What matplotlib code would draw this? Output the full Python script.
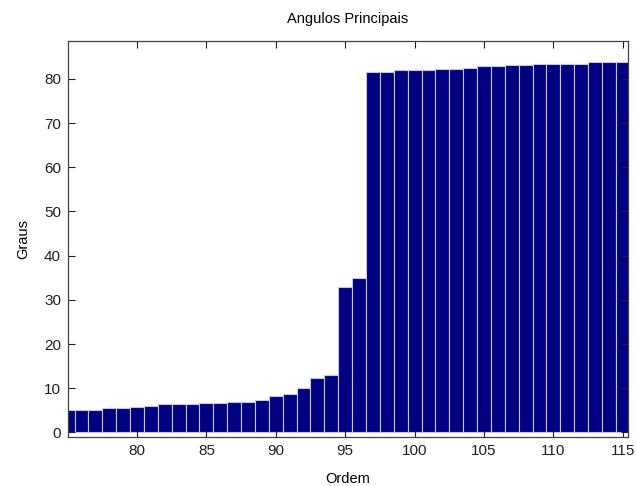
import numpy as np
import matplotlib
matplotlib.use("Agg")
import matplotlib.pyplot as plt

plt.rcParams['font.family'] = ['Liberation Sans', 'DejaVu Sans']

ordem = list(range(75, 116))
graus = [5.1, 5.1, 5.1, 5.5, 5.5, 5.7, 6.1, 6.4, 6.4, 6.4,
         6.7, 6.7, 7.0, 7.0, 7.3, 8.3, 8.6, 10.1, 12.4, 12.9,
         32.8, 35.0, 81.5, 81.5, 81.9, 81.9, 81.9, 82.2, 82.2, 82.5,
         82.8, 82.8, 83.1, 83.1, 83.4, 83.4, 83.4, 83.4, 83.8, 83.8,
         83.8]
xticks = [80, 85, 90, 95, 100, 105, 110, 115]
yticks = [0, 10, 20, 30, 40, 50, 60, 70, 80]

fig = plt.figure(figsize=(6.36, 4.86), dpi=100)
ax = fig.add_axes([0.107, 0.101, 0.880, 0.815])

ax.bar(ordem, graus, width=1.0, color='#000080', edgecolor='#c4c4e6', linewidth=0.8)

ax.set_xlim(75.03, 115.36)
ax.set_ylim(-1.0, 88.6)
ax.set_xticks(xticks)
ax.set_yticks(yticks)
ax.tick_params(direction='in', length=5, width=0.8, top=True, right=True,
               labelsize=11, colors='#202020', pad=5)
for s in ax.spines.values():
    s.set_color('#404040')
    s.set_linewidth(0.9)

ax.set_title('Angulos Principais', fontsize=10.5, pad=13)
ax.set_xlabel('Ordem', fontsize=10.5, labelpad=10)
ax.set_ylabel('Graus', fontsize=10.5, labelpad=10)

fig.savefig('out.png', dpi=100)
